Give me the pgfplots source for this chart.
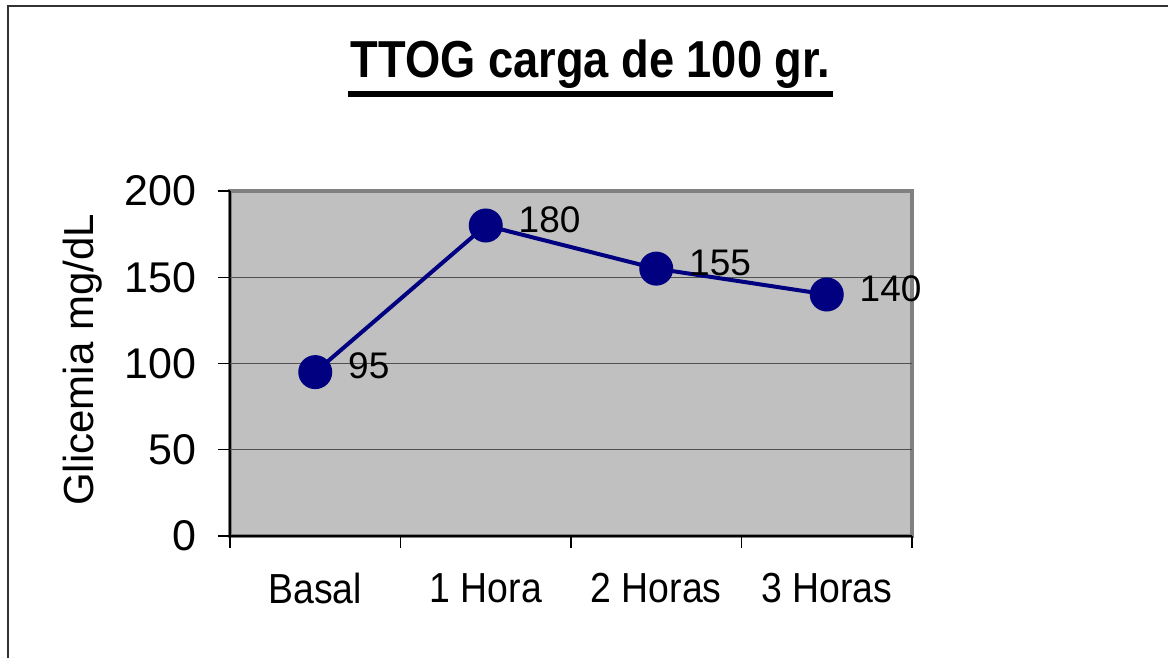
\documentclass[border=0pt]{standalone}
\usepackage{fontspec}
\setmainfont{Liberation Sans}
\usepackage{pgfplots}
\pgfplotsset{compat=1.18}
\definecolor{plotbg}{HTML}{C0C0C0}
\definecolor{plotborder}{HTML}{808080}
\definecolor{navyc}{HTML}{000080}
\definecolor{gridc}{HTML}{505050}
\begin{document}
\begin{tikzpicture}
\path[use as bounding box] (0,0) rectangle (584pt,329pt);
\draw[line width=0.9pt, black!80] (4pt,-10pt) -- (4pt,326pt) -- (600pt,326pt);
\node[font=\fontsize{26}{28}\selectfont\bfseries, xscale=0.87, anchor=base, inner sep=0pt] at (295.25pt,290pt) {TTOG carga de 100 gr.};
\draw[line width=3pt] (174pt,282pt) -- (416.5pt,282pt);
\begin{axis}[
  at={(115pt,61pt)}, anchor=south west,
  scale only axis, width=341pt, height=172.5pt,
  xmin=0.5, xmax=4.5, ymin=0, ymax=200,
  axis x line*=bottom, axis y line*=left,
  axis line style={black, line width=0.7pt},
  axis background/.style={fill=plotbg, draw=plotborder, line width=2pt},
  /pgf/number format/assume math mode=true,
  tick align=outside,
  major tick length=6pt,
  tick style={black, line width=0.6pt},
  ytick={0,50,100,150,200},
  extra y ticks={50,100,150},
  extra y tick labels={},
  extra y tick style={grid=major, major tick length=0pt},
  grid style={gridc, line width=0.7pt},
  xtick={0.5,1.5,2.5,3.5,4.5},
  xticklabels={},
  extra x ticks={1,2,3,4},
  extra x tick labels={Basal,1 Hora,2 Horas,3 Horas},
  extra x tick style={major tick length=0pt},
  xticklabel style={font=\fontsize{21}{22}\selectfont, xscale=0.89, inner sep=0pt, anchor=north, yshift=-18.5pt},
  yticklabel style={font=\fontsize{21.5}{22}\selectfont, inner sep=0pt, anchor=east, xshift=-10.5pt},
  ylabel={Glicemia mg/dL},
  ylabel style={font=\fontsize{21}{22}\selectfont, at={(axis description cs:-0.245,0.51)}, anchor=north, inner sep=0pt, rotate=0},
  clip=false,
]
\addplot[color=navyc, line width=2pt, mark=*, mark size=7.5pt,
  mark options={fill=navyc, draw=navyc},
  nodes near coords,
  every node near coord/.append style={font=\fontsize{18.5}{19}\selectfont, text=black, anchor=west, inner sep=0pt, xshift=15.5pt, yshift=3pt},
  point meta=explicit symbolic]
  coordinates {(1,95) [95] (2,180) [180] (3,155) [155] (4,140) [140]};
\end{axis}
\end{tikzpicture}
\end{document}
